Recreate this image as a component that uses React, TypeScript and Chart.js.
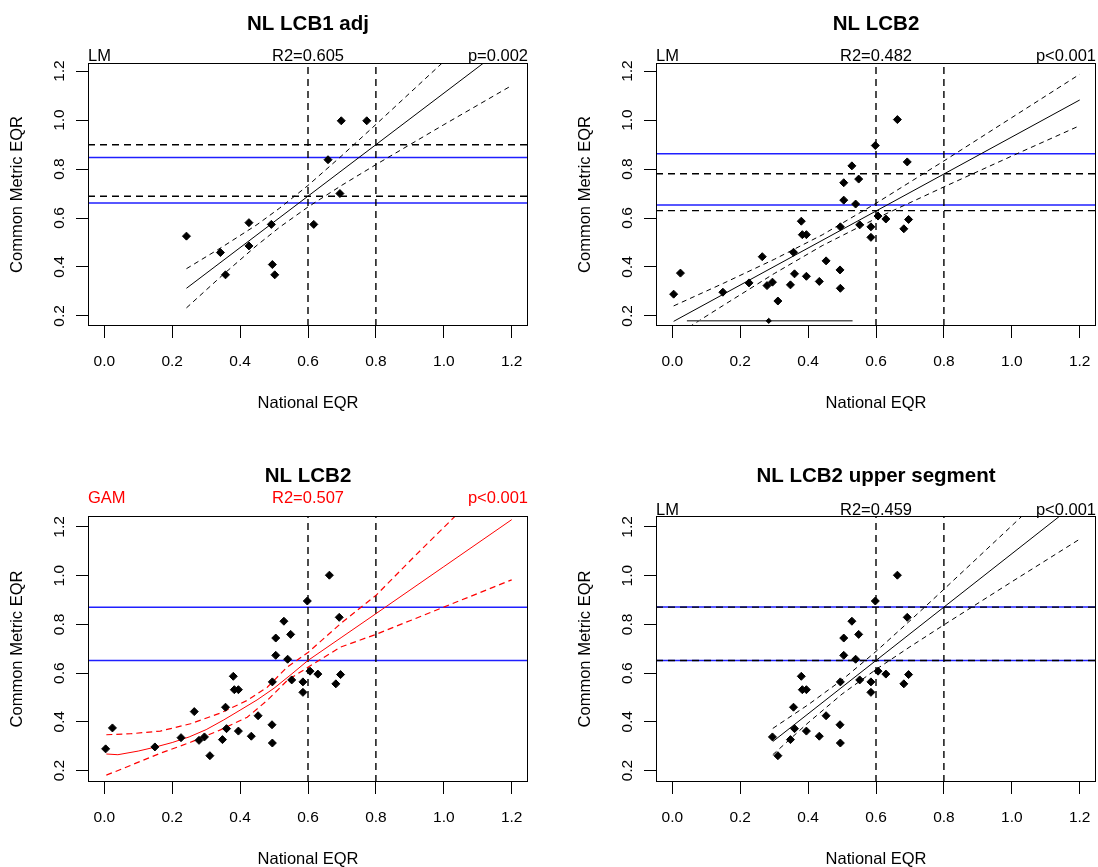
import React, { useEffect, useRef } from 'react';
import { Chart, registerables } from 'chart.js';

Chart.register(...registerables);

const W = 1098;
const H = 867;
const FONT = '"Liberation Sans", Arial, Helvetica, sans-serif';
const Y_AXIS_W = 80;
const X_AXIS_H = 85;
const X_TITLE_OFFSET = 77;

// ---- shared axes ----
const X_TICKS = [0.0, 0.2, 0.4, 0.6, 0.8, 1.0, 1.2];
const Y_TICKS = [0.2, 0.4, 0.6, 0.8, 1.0, 1.2];
const X_LIMITS = [-0.048, 1.248];
const Y_LIMITS_TOP = [0.159, 1.233];
const Y_LIMITS_BOTTOM = [0.153, 1.245];
const BOUNDARY_X = [0.6, 0.8];

// ---- Panel 1: NL LCB1 adj (LM) ----
const LCB1_X = [0.242, 0.342, 0.357, 0.426, 0.426, 0.492, 0.495, 0.502, 0.617, 0.659, 0.694, 0.698, 0.773];
const LCB1_Y = [0.526, 0.459, 0.368, 0.581, 0.486, 0.574, 0.410, 0.368, 0.574, 0.838, 0.700, 0.997, 0.997];
const LCB1_FIT_X = [0.242, 1.2];
const LCB1_FIT_Y = [0.313, 1.320];
const LCB1_CI_X = [0.242, 0.35, 0.45, 0.517, 0.6, 0.7, 0.8, 1.0, 1.2];
const LCB1_CI_UPPER = [0.393, 0.484, 0.573, 0.641, 0.733, 0.855, 0.982, 1.239, 1.499];
const LCB1_CI_LOWER = [0.233, 0.369, 0.489, 0.563, 0.645, 0.734, 0.818, 0.981, 1.141];
const LCB1_BLUE = [0.847, 0.661];
const LCB1_PRED = [0.899, 0.689];

// ---- NL LCB2 observations (panels 2-4) ----
const LCB2_X = [0.004, 0.024, 0.149, 0.226, 0.265, 0.279, 0.295, 0.311, 0.348, 0.357, 0.360, 0.380, 0.383, 0.395, 0.395, 0.433, 0.453, 0.494, 0.495, 0.495, 0.505, 0.505, 0.529, 0.540, 0.549, 0.552, 0.585, 0.585, 0.598, 0.606, 0.629, 0.663, 0.682, 0.692, 0.696];
const LCB2_Y = [0.289, 0.375, 0.297, 0.335, 0.442, 0.324, 0.338, 0.261, 0.327, 0.460, 0.372, 0.587, 0.532, 0.532, 0.362, 0.341, 0.425, 0.388, 0.313, 0.564, 0.744, 0.673, 0.813, 0.657, 0.759, 0.572, 0.564, 0.521, 0.896, 0.608, 0.596, 1.002, 0.556, 0.829, 0.594];

// ---- Panel 2: NL LCB2 (LM) ----
const LCB2_FIT_X = [0.004, 1.2];
const LCB2_FIT_Y = [0.178, 1.082];
const LCB2_CI_X = [0.004, 0.15, 0.3, 0.4415, 0.6, 0.8, 1.0, 1.2];
const LCB2_CI_UPPER = [0.241, 0.333, 0.431, 0.531, 0.660, 0.833, 1.010, 1.187];
const LCB2_CI_LOWER = [0.115, 0.243, 0.373, 0.487, 0.598, 0.727, 0.853, 0.977];
const LCB2_BLUE = [0.862, 0.653];
const LCB2_PRED = [0.781, 0.630];
const LCB2_SEG_X = [0.043, 0.531];
const LCB2_SEG_Y = [0.180, 0.180];
const LCB2_SEG_MARK_X = [0.284];
const LCB2_SEG_MARK_Y = [0.180];

// ---- Panel 3: NL LCB2 (GAM) ----
const GAM_X = [0.006, 0.04, 0.1, 0.149, 0.2, 0.25, 0.3, 0.352, 0.4, 0.45, 0.5, 0.55, 0.6, 0.7, 0.8, 1.0, 1.2];
const GAM_FIT = [0.268, 0.265, 0.280, 0.296, 0.315, 0.338, 0.368, 0.408, 0.448, 0.490, 0.538, 0.594, 0.652, 0.748, 0.844, 1.037, 1.230];
const GAM_UPPER_X = [0.006, 0.077, 0.165, 0.254, 0.342, 0.421, 0.480, 0.539, 0.601, 0.696, 0.8, 0.912, 1.026, 1.2];
const GAM_UPPER = [0.347, 0.351, 0.362, 0.392, 0.436, 0.488, 0.542, 0.625, 0.686, 0.803, 0.919, 1.077, 1.234, 1.48];
const GAM_LOWER_X = [0.006, 0.077, 0.165, 0.254, 0.342, 0.421, 0.480, 0.539, 0.601, 0.696, 0.8, 0.9, 1.0, 1.2];
const GAM_LOWER = [0.181, 0.221, 0.271, 0.316, 0.367, 0.419, 0.488, 0.570, 0.625, 0.707, 0.759, 0.815, 0.871, 0.983];
const GAM_BLUE = [0.870, 0.652];

// ---- Panel 4: NL LCB2 upper segment (LM) ----
const UPPER_MIN_X = 0.29;
const UPS_FIT_X = [0.296, 1.2];
const UPS_FIT_Y = [0.319, 1.309];
const UPS_CI_X = [0.296, 0.4, 0.5, 0.6, 0.7, 0.8, 1.0, 1.2];
const UPS_CI_UPPER = [0.373, 0.470, 0.572, 0.689, 0.815, 0.944, 1.205, 1.468];
const UPS_CI_LOWER = [0.265, 0.396, 0.514, 0.615, 0.708, 0.798, 0.975, 1.150];
const UPS_BLUE = [0.871, 0.652];
const UPS_PRED = [0.871, 0.652];

// ---- helpers ----
const pts = (xs: number[], ys: number[]) => xs.map((x, i) => ({ x, y: ys[i] }));
const hline = (y: number) => [{ x: X_LIMITS[0], y }, { x: X_LIMITS[1], y }];
const vline = (x: number, lim: number[]) => [{ x, y: lim[0] }, { x, y: lim[1] }];

const scatterDs = (data: any[], r = 4) => ({
  data,
  showLine: false,
  pointStyle: 'rectRot',
  pointRadius: r,
  pointHoverRadius: r,
  backgroundColor: '#000',
  borderColor: '#000',
  borderWidth: 1,
  order: 0,
});

const lineDs = (data: any[], color: string, width: number, dash: number[], order: number) => ({
  data,
  showLine: true,
  fill: false,
  tension: 0,
  pointRadius: 0,
  pointHoverRadius: 0,
  borderColor: color,
  backgroundColor: color,
  borderWidth: width,
  borderDash: dash,
  order,
});

const REF_DASH = [7, 5];
const CI_DASH = [5, 4];

const commonRefs = (lim: number[]) => BOUNDARY_X.map((x) => lineDs(vline(x, lim), '#000', 1.4, REF_DASH, 2));

const panels: any[] = [
  {
    left: 88, top: 63, right: 528, bottom: 326, yLim: Y_LIMITS_TOP,
    title: 'NL LCB1 adj', titleY: 30, subY: 61, subColor: '#000',
    subs: ['LM', 'R2=0.605', 'p=0.002'],
    datasets: [
      scatterDs(pts(LCB1_X, LCB1_Y)),
      lineDs(pts(LCB1_FIT_X, LCB1_FIT_Y), '#000', 1, [], 1),
      lineDs(pts(LCB1_CI_X, LCB1_CI_UPPER), '#000', 1, CI_DASH, 1),
      lineDs(pts(LCB1_CI_X, LCB1_CI_LOWER), '#000', 1, CI_DASH, 1),
      ...LCB1_PRED.map((y) => lineDs(hline(y), '#000', 1.4, REF_DASH, 2)),
      ...commonRefs(Y_LIMITS_TOP),
      ...LCB1_BLUE.map((y) => lineDs(hline(y), '#1f1fff', 1.5, [], 3)),
    ],
  },
  {
    left: 656, top: 63, right: 1096, bottom: 326, yLim: Y_LIMITS_TOP,
    title: 'NL LCB2', titleY: 30, subY: 61, subColor: '#000',
    subs: ['LM', 'R2=0.482', 'p<0.001'],
    datasets: [
      scatterDs(pts(LCB2_X, LCB2_Y)),
      scatterDs(pts(LCB2_SEG_MARK_X, LCB2_SEG_MARK_Y), 2.6),
      lineDs(pts(LCB2_SEG_X, LCB2_SEG_Y), '#555', 1.5, [], 1),
      lineDs(pts(LCB2_FIT_X, LCB2_FIT_Y), '#000', 1, [], 1),
      lineDs(pts(LCB2_CI_X, LCB2_CI_UPPER), '#000', 1, CI_DASH, 1),
      lineDs(pts(LCB2_CI_X, LCB2_CI_LOWER), '#000', 1, CI_DASH, 1),
      ...LCB2_PRED.map((y) => lineDs(hline(y), '#000', 1.4, REF_DASH, 2)),
      ...commonRefs(Y_LIMITS_TOP),
      ...LCB2_BLUE.map((y) => lineDs(hline(y), '#1f1fff', 1.5, [], 3)),
    ],
  },
  {
    left: 88, top: 516, right: 528, bottom: 782, yLim: Y_LIMITS_BOTTOM,
    title: 'NL LCB2', titleY: 482, subY: 503, subColor: '#ff0000',
    subs: ['GAM', 'R2=0.507', 'p<0.001'],
    datasets: [
      scatterDs(pts(LCB2_X, LCB2_Y)),
      lineDs(pts(GAM_X, GAM_FIT), '#ff0000', 1, [], 1),
      lineDs(pts(GAM_UPPER_X, GAM_UPPER), '#ff0000', 1.2, [6, 4], 1),
      lineDs(pts(GAM_LOWER_X, GAM_LOWER), '#ff0000', 1.2, [6, 4], 1),
      ...commonRefs(Y_LIMITS_BOTTOM),
      ...GAM_BLUE.map((y) => lineDs(hline(y), '#1f1fff', 1.5, [], 3)),
    ],
  },
  {
    left: 656, top: 516, right: 1096, bottom: 782, yLim: Y_LIMITS_BOTTOM,
    title: 'NL LCB2 upper segment', titleY: 482, subY: 515, subColor: '#000',
    subs: ['LM', 'R2=0.459', 'p<0.001'],
    datasets: [
      scatterDs(pts(LCB2_X, LCB2_Y).filter((p) => p.x >= UPPER_MIN_X)),
      lineDs(pts(UPS_FIT_X, UPS_FIT_Y), '#000', 1, [], 1),
      lineDs(pts(UPS_CI_X, UPS_CI_UPPER), '#000', 1, CI_DASH, 1),
      lineDs(pts(UPS_CI_X, UPS_CI_LOWER), '#000', 1, CI_DASH, 1),
      ...UPS_PRED.map((y) => lineDs(hline(y), '#000', 1.4, REF_DASH, 2)),
      ...commonRefs(Y_LIMITS_BOTTOM),
      ...UPS_BLUE.map((y) => lineDs(hline(y), '#1f1fff', 1.5, [], 3)),
    ],
  },
];

const panelPlugin = (p: any) => ({
  id: 'panelDecor',
  afterDatasetsDraw(chart: any) {
    const { ctx, chartArea: a } = chart;
    ctx.save();
    ctx.strokeStyle = '#000';
    ctx.lineWidth = 1;
    ctx.setLineDash([]);
    ctx.strokeRect(a.left + 0.5, a.top + 0.5, a.right - a.left - 1, a.bottom - a.top - 1);
    ctx.restore();
  },
  afterDraw(chart: any) {
    const { ctx, chartArea: a } = chart;
    const cx = (a.left + a.right) / 2;
    ctx.save();
    ctx.textBaseline = 'alphabetic';
    ctx.fillStyle = '#000';
    ctx.font = `bold 20.5px ${FONT}`;
    ctx.textAlign = 'center';
    ctx.fillText(p.title, cx, p.titleY);
    ctx.font = `16.5px ${FONT}`;
    ctx.fillStyle = p.subColor;
    ctx.textAlign = 'left';
    ctx.fillText(p.subs[0], a.left, p.subY);
    ctx.textAlign = 'center';
    ctx.fillText(p.subs[1], cx, p.subY);
    ctx.textAlign = 'right';
    ctx.fillText(p.subs[2], a.right, p.subY);
    ctx.restore();
  },
});

const makeConfig = (p: any): any => ({
  type: 'scatter',
  data: { datasets: p.datasets },
  options: {
    responsive: false,
    animation: false,
    devicePixelRatio: 1,
    events: [],
    layout: {
      autoPadding: false,
      padding: {
        left: p.left - Y_AXIS_W,
        top: p.top,
        right: W - p.right,
        bottom: H - p.bottom - X_AXIS_H,
      },
    },
    plugins: {
      legend: { display: false },
      tooltip: { enabled: false },
      title: { display: false },
    },
    scales: {
      x: {
        type: 'linear',
        position: 'bottom',
        min: X_LIMITS[0],
        max: X_LIMITS[1],
        afterBuildTicks: (s: any) => {
          s.ticks = X_TICKS.map((v) => ({ value: v }));
        },
        afterFit: (s: any) => {
          s.height = X_AXIS_H;
          s.paddingLeft = 0;
          s.paddingRight = 0;
        },
        grid: { display: true, drawOnChartArea: false, drawTicks: true, tickLength: 12, color: '#000', lineWidth: 1 },
        border: { display: false },
        ticks: {
          color: '#000',
          font: { family: FONT, size: 15.5 },
          padding: 14.7,
          minRotation: 0,
          maxRotation: 0,
          autoSkip: false,
          callback: (v: any) => Number(v).toFixed(1),
        },
        title: {
          display: true,
          text: 'National EQR',
          color: '#000',
          font: { family: FONT, size: 16.5 },
          padding: { top: 0, bottom: X_AXIS_H - X_TITLE_OFFSET - 9.9 },
        },
      },
      y: {
        type: 'linear',
        position: 'left',
        min: p.yLim[0],
        max: p.yLim[1],
        afterBuildTicks: (s: any) => {
          s.ticks = Y_TICKS.map((v) => ({ value: v }));
        },
        afterFit: (s: any) => {
          s.width = Y_AXIS_W;
          s.paddingTop = 0;
          s.paddingBottom = 0;
        },
        grid: { display: true, drawOnChartArea: false, drawTicks: true, tickLength: 12, color: '#000', lineWidth: 1 },
        border: { display: false },
        ticks: {
          color: '#000',
          font: { family: FONT, size: 15.5 },
          padding: 5.2,
          minRotation: 90,
          maxRotation: 90,
          crossAlign: 'center',
          autoSkip: false,
          callback: (v: any) => Number(v).toFixed(1),
        },
        title: {
          display: true,
          text: 'Common Metric EQR',
          color: '#000',
          font: { family: FONT, size: 16.5 },
          padding: { top: 0, bottom: 0 },
        },
      },
    },
  },
  plugins: [panelPlugin(p)],
});

function Panel({ panel }: { panel: any }) {
  const ref = useRef<HTMLCanvasElement | null>(null);
  useEffect(() => {
    if (!ref.current) return;
    const chart = new Chart(ref.current, makeConfig(panel));
    return () => chart.destroy();
  }, [panel]);
  return (
    <canvas
      ref={ref}
      width={W}
      height={H}
      style={{ position: 'absolute', left: 0, top: 0, width: W, height: H }}
    />
  );
}

export default function App() {
  return (
    <div style={{ position: 'fixed', left: 0, top: 0, width: W, height: H, background: '#fff', overflow: 'hidden' }}>
      {panels.map((p, i) => (
        <Panel key={i} panel={p} />
      ))}
    </div>
  );
}
